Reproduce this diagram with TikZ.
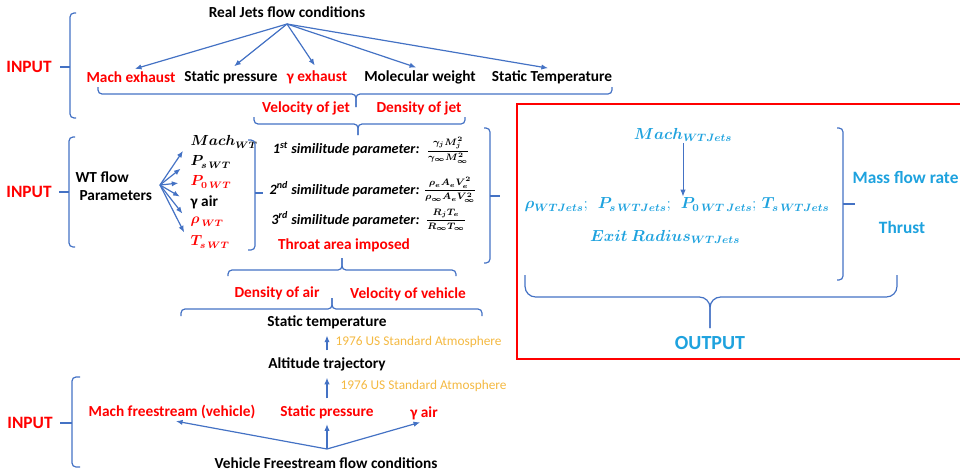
\documentclass[tikz,border=0pt]{standalone}
\usepackage{fontspec}
\setmainfont{Carlito}
\usepackage{bm}
\usetikzlibrary{arrows.meta}
\definecolor{lineblue}{HTML}{4472C4}
\definecolor{jred}{HTML}{FF0000}
\definecolor{jcyan}{HTML}{1EA2DE}
\definecolor{jyel}{HTML}{F4B942}
\def\hbrace[#1](#2:#3:#4)(#5:#6:#7){\draw[brk,#1] (#2,#5) -- (#2,#6) -- (#3,#6) -- (#3,#7); \draw[brk,#1] (#4,#5) -- (#4,#6) -- (#3,#6) -- (#3,#7);}
\def\vbrace[#1](#2:#3:#4)(#5:#6:#7){\draw[brk,#1] (#3,#5) -- (#2,#5) -- (#2,#7) -- (#3,#7); \draw[brk,#1] (#2,#6) -- (#4,#6);}
\tikzset{
	brk/.style={draw=lineblue, line width=0.9pt, rounded corners=3pt},
	arr/.style={draw=lineblue, line width=0.9pt, -{Latex[length=5pt,width=4pt]}},
	txt/.style={inner sep=1pt, font=\bfseries\fontsize{11.5}{13}\selectfont},
	hot/.style={txt, text=jred},
	inp/.style={inner sep=1pt, text=jred, font=\bfseries\fontsize{13}{15}\selectfont},
	atm/.style={inner sep=1pt, anchor=west, text=jyel, font=\fontsize{10}{12}\selectfont},
	sim/.style={inner sep=1pt, anchor=east, font=\bfseries\itshape\fontsize{10.7}{12}\selectfont},
	frac/.style={inner sep=0pt, font=\fontsize{7}{8}\selectfont},
	wt/.style={inner sep=1pt, anchor=west, font=\fontsize{10.5}{12}\selectfont},
	res/.style={inner sep=1pt, text=jcyan, font=\fontsize{12}{14}\selectfont},
	outp/.style={txt, text=jcyan, font=\bfseries\fontsize{13}{15}\selectfont}
}
\begin{document}
\begin{tikzpicture}[x=0.75pt, y=-0.75pt]
			%%%%% START %%%%%
			\useasboundingbox (0,0) rectangle (960,475);
			
			% real jets
			\node[txt] (rj) at (287,12) {Real Jets flow conditions};
			\coordinate (rjo) at (287,24);
			\node[hot] (mex) at (131,77) {Mach exhaust};
			\node[txt] (spj) at (231,77) {Static pressure};
			\node[hot] (gex) at (317,77) {γ exhaust};
			\node[txt] (mw) at (420,77) {Molecular weight};
			\node[txt] (stj) at (552,77) {Static Temperature};
			\foreach \n in {mex,spj,gex,mw,stj}
				\draw[arr, shorten >=3pt] (rjo) -- (\n.north);
			
			\node[inp] (in1) at (29,67) {INPUT};
			\vbrace[](70:76:60)(13:67:118)
			\hbrace[](98:356:612)(87:94:107)
			
			\node[hot] (vj) at (306,108) {Velocity of jet};
			\node[hot] (dj) at (419,108) {Density of jet};
			\hbrace[](254:358:465)(117:124:135)
			
			% wind tunnel
			\node[inp] (in2) at (29,192) {INPUT};
			\vbrace[](69:75:59)(137:192:247)
			\node[txt, anchor=west] (wtf) at (74,177) {WT flow};
			\node[txt, anchor=west] (wtp) at (78,196) {Parameters};
			
			\coordinate (fan) at (160,185);
			\node[wt] (mwt) at (189,142) {$\bm{Mach_{WT}}$};
			\node[wt] (pswt) at (189,162) {$\bm{P_{s\,WT}}$};
			\node[wt, text=jred] (pzwt) at (189,182) {$\bm{P_{0\,WT}}$};
			\node[txt, anchor=west] (gair) at (189,202) {γ air};
			\node[wt, text=jred] (rwt) at (189,222) {$\bm{\rho_{\,WT}}$};
			\node[wt, text=jred] (tswt) at (189,242) {$\bm{T_{s\,WT}}$};
			\foreach \n in {mwt,pswt,pzwt,gair,rwt,tswt}
				\draw[arr, shorten >=8pt] (fan) -- (\n.west);
			\vbrace[](255:248:263)(140:193:250)
			
			\node[sim] (s1) at (421,149) {1\textsuperscript{st} similitude parameter:};
			\node[frac] (f1) at (448,150) {$\displaystyle\frac{\bm{\gamma_j M_j^2}}{\bm{\gamma_\infty M_\infty^2}}$};
			\node[sim] (s2) at (421,189) {2\textsuperscript{nd} similitude parameter:};
			\node[frac] (f2) at (450,190) {$\displaystyle\frac{\bm{\rho_e A_e V_e^2}}{\bm{\rho_\infty A_e V_\infty^2}}$};
			\node[sim] (s3) at (421,219) {3\textsuperscript{rd} similitude parameter:};
			\node[frac] (f3) at (446,220) {$\displaystyle\frac{\bm{R_j T_e}}{\bm{R_\infty T_\infty}}$};
			\node[hot] (tai) at (344,245) {Throat area imposed};
			\vbrace[](490:484:500)(128:196:263)
			\hbrace[](228:342:456)(276:270:258)
			
			% vehicle
			\node[hot] (dair) at (277,293) {Density of air};
			\node[hot] (vveh) at (408,294) {Velocity of vehicle};
			\hbrace[](181:332:482)(316:309:298)
			\node[txt] (stv) at (327,322) {Static temperature};
			\node[atm] (atm1) at (334,342) {1976 US Standard Atmosphere};
			\node[txt] (alt) at (327,364) {Altitude trajectory};
			\node[atm] (atm2) at (339,386) {1976 US Standard Atmosphere};
			
			\node[inp] (in3) at (30,423) {INPUT};
			\vbrace[](72:80:60)(377:423:467)
			\node[hot] (mfs) at (172,412) {Mach freestream (vehicle)};
			\node[hot] (spv) at (327,412) {Static pressure};
			\node[hot] (gav) at (424,413) {γ air};
			\node[txt] (vfc) at (326,463) {Vehicle Freestream flow conditions};
			\coordinate (vfo) at (327,449);
			\foreach \n in {mfs,spv,gav}
				\draw[arr, shorten >=3pt] (vfo) -- (\n.south);
			\draw[arr, shorten <=4pt, shorten >=4pt] (spv.north) -- (alt.south);
			\draw[arr, shorten <=4pt, shorten >=4pt] (alt.north) -- (stv.south);
			
			% output box
			\draw[jred, line width=1.6pt] (960,104) -- (517,104) -- (517,359) -- (960,359);
			\node[res] (mwj) at (683,135) {$\bm{Mach_{WTJets}}$};
			\node[res] (row) at (677,205) {$\bm{\rho_{WTJets}};\ \ \bm{P_{s\,WTJets}};\ \ \bm{P_{0\,WT\,Jets}};\,\bm{T_{s\,WTJets}}$};
			\node[res] (exr) at (665,237) {$\bm{Exit\ Radius_{WTJets}}$};
			\draw[arr, line width=0.6pt] (mwj.south) -- (mwj.south |- row.north);
			\vbrace[](843:837:855)(128:204:280)
			\node[outp, anchor=west] (mfr) at (851,178) {Mass flow rate};
			\node[outp] (thr) at (902,227) {Thrust};
			\hbrace[rounded corners=8pt](525:710:897)(275:297:328)
			\node[outp, font=\bfseries\fontsize{15}{17}\selectfont] (out) at (710,343) {OUTPUT};
			
			%%%%% END %%%%%
		\end{tikzpicture}
\end{document}
